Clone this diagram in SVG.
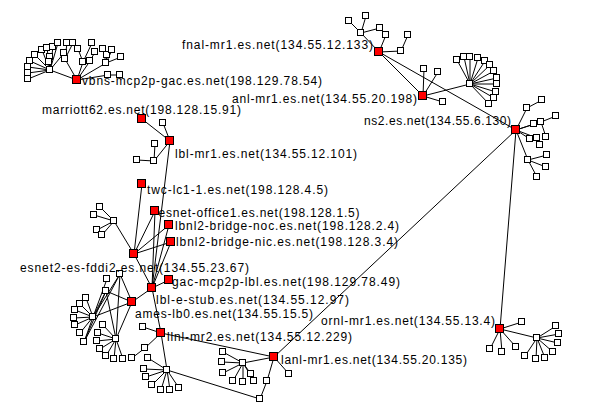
<svg xmlns="http://www.w3.org/2000/svg" width="590" height="411" viewBox="0 0 590 411">
<style>
.w{fill:#fff;stroke:#000;stroke-width:1}
.r{fill:#f00;stroke:#000;stroke-width:1}
#connectors path{stroke:#000;stroke-width:1;fill:none}
text{font-family:"Liberation Sans",Arial,sans-serif;font-size:12px;fill:#000}
</style>
<rect width="590" height="411" fill="#fff"/>
<g id="connectors">
<path d="M379 52L361 33M361 33L349 21M361 33L366 16M361 33L380 28M379 52L386 35M379 52L401 51M401 51L408 35M379 52L423 96M379 52L516 130"/>
<path d="M423 96L424 69M423 96L438 72M423 96L443 102M423 96L470 84M470 84L457 60M470 84L464 57M470 84L470 57M470 84L478 58M470 84L485 61M470 84L490 65M470 84L494 71M470 84L497 78M470 84L497 84M470 84L496 92M470 84L494 98M470 84L489 104"/>
<path d="M516 130L527 108M527 108L542 100M516 130L534 124M516 130L541 122M541 122L556 116M541 122L546 137M516 130L530 139M516 130L537 138M537 138L540 145M516 130L528 160M528 160L547 155M528 160L546 167M528 160L537 177M516 130L500 329M516 130L274 357"/>
<path d="M500 329L522 322M500 329L490 349M500 329L502 352M500 329L516 347M500 329L537 338M537 338L556 326M537 338L559 334M537 338L558 343M537 338L553 352M537 338L545 358M537 338L536 359M537 338L525 356"/>
<path d="M274 357L289 374M274 357L267 381M267 381L260 399M274 357L243 363M243 363L223 352M243 363L222 362M243 363L223 373M243 363L233 381M243 363L243 382M243 363L251 374M243 363L254 381M274 357L161 333M167 370L260 399"/>
<path d="M161 333L143 327M161 333L145 348M145 348L132 358M161 333L167 370M167 370L148 358M167 370L144 369M167 370L146 377M167 370L152 385M167 370L161 390M167 370L170 390M167 370L179 388"/>
<path d="M142 184L134 254M155 211L134 254M169 225L134 254M171 242L134 254M155 211L152 288M169 225L152 288M171 242L152 288M134 254L152 288M152 288L169 280M152 288L132 302M152 288L161 333M170 141L152 288"/>
<path d="M142 119L170 141M170 141L163 123M170 141L154 161M154 161L155 144M154 161L137 160"/>
<path d="M134 254L114 221M114 221L100 207M114 221L94 215M114 221L97 230M114 221L102 235"/>
<path d="M132 302L120 274M132 302L106 291M132 302L93 317M132 302L116 339M120 274L93 317M120 274L116 339M120 274L84 342M107 279L93 317M106 291L93 317M106 291L116 339M106 291L84 342M93 317L86 298M93 317L80 304M93 317L75 310M93 317L74 318M93 317L75 325M93 317L80 333M93 317L84 342M116 339L103 325M116 339L98 333M116 339L97 341M116 339L100 349M116 339L106 356M116 339L114 359M116 339L123 359"/>
<path d="M77 80L50 70M50 70L28 79M50 70L28 73M50 70L28 67M50 70L30 61M50 70L35 55M50 70L42 50M50 70L47 48M50 70L53 47M50 70L58 43M50 70L50 57M50 70L49 62M50 70L64 53M77 80L65 59M77 80L83 62M77 80L90 61M77 80L106 63M77 80L108 75M65 59L67 43M65 59L73 43M83 62L78 49M83 62L92 43M90 61L95 52M106 63L103 49M106 63L107 55M106 63L112 50M106 63L121 57M108 75L120 75"/>
</g>
<g id="w-vbns">
<rect class="w" x="46.5" y="66.5" width="6" height="6"/><rect class="w" x="24.5" y="75.5" width="6" height="6"/><rect class="w" x="24.5" y="69.5" width="6" height="6"/><rect class="w" x="24.5" y="63.5" width="6" height="6"/><rect class="w" x="26.5" y="57.5" width="6" height="6"/><rect class="w" x="31.5" y="51.5" width="6" height="6"/><rect class="w" x="38.5" y="46.5" width="6" height="6"/><rect class="w" x="43.5" y="44.5" width="6" height="6"/><rect class="w" x="49.5" y="43.5" width="6" height="6"/><rect class="w" x="54.5" y="39.5" width="6" height="6"/><rect class="w" x="46.5" y="53.5" width="6" height="6"/><rect class="w" x="45.5" y="58.5" width="6" height="6"/><rect class="w" x="60.5" y="49.5" width="6" height="6"/><rect class="w" x="63.5" y="39.5" width="6" height="6"/><rect class="w" x="69.5" y="39.5" width="6" height="6"/><rect class="w" x="61.5" y="55.5" width="6" height="6"/><rect class="w" x="79.5" y="58.5" width="6" height="6"/><rect class="w" x="86.5" y="57.5" width="6" height="6"/><rect class="w" x="74.5" y="45.5" width="6" height="6"/><rect class="w" x="88.5" y="39.5" width="6" height="6"/><rect class="w" x="91.5" y="48.5" width="6" height="6"/><rect class="w" x="102.5" y="59.5" width="6" height="6"/><rect class="w" x="99.5" y="45.5" width="6" height="6"/><rect class="w" x="103.5" y="51.5" width="6" height="6"/><rect class="w" x="108.5" y="46.5" width="6" height="6"/><rect class="w" x="117.5" y="53.5" width="6" height="6"/><rect class="w" x="104.5" y="71.5" width="6" height="6"/><rect class="w" x="116.5" y="71.5" width="6" height="6"/>
</g>
<g id="w-fnal">
<rect class="w" x="357.5" y="29.5" width="6" height="6"/><rect class="w" x="345.5" y="17.5" width="6" height="6"/><rect class="w" x="362.5" y="12.5" width="6" height="6"/><rect class="w" x="376.5" y="24.5" width="6" height="6"/><rect class="w" x="382.5" y="31.5" width="6" height="6"/><rect class="w" x="397.5" y="47.5" width="6" height="6"/><rect class="w" x="404.5" y="31.5" width="6" height="6"/>
</g>
<g id="w-anl">
<rect class="w" x="420.5" y="65.5" width="6" height="6"/><rect class="w" x="434.5" y="68.5" width="6" height="6"/><rect class="w" x="439.5" y="98.5" width="6" height="6"/><rect class="w" x="466.5" y="80.5" width="6" height="6"/><rect class="w" x="453.5" y="56.5" width="6" height="6"/><rect class="w" x="460.5" y="53.5" width="6" height="6"/><rect class="w" x="466.5" y="53.5" width="6" height="6"/><rect class="w" x="474.5" y="54.5" width="6" height="6"/><rect class="w" x="481.5" y="57.5" width="6" height="6"/><rect class="w" x="486.5" y="61.5" width="6" height="6"/><rect class="w" x="490.5" y="67.5" width="6" height="6"/><rect class="w" x="493.5" y="74.5" width="6" height="6"/><rect class="w" x="493.5" y="80.5" width="6" height="6"/><rect class="w" x="492.5" y="88.5" width="6" height="6"/><rect class="w" x="490.5" y="94.5" width="6" height="6"/><rect class="w" x="485.5" y="100.5" width="6" height="6"/>
</g>
<g id="w-ns2">
<rect class="w" x="523.5" y="104.5" width="6" height="6"/><rect class="w" x="538.5" y="96.5" width="6" height="6"/><rect class="w" x="530.5" y="120.5" width="6" height="6"/><rect class="w" x="537.5" y="118.5" width="6" height="6"/><rect class="w" x="552.5" y="112.5" width="6" height="6"/><rect class="w" x="526.5" y="135.5" width="6" height="6"/><rect class="w" x="533.5" y="134.5" width="6" height="6"/><rect class="w" x="542.5" y="133.5" width="6" height="6"/><rect class="w" x="536.5" y="141.5" width="6" height="6"/><rect class="w" x="524.5" y="156.5" width="6" height="6"/><rect class="w" x="543.5" y="151.5" width="6" height="6"/><rect class="w" x="542.5" y="163.5" width="6" height="6"/><rect class="w" x="533.5" y="173.5" width="6" height="6"/>
</g>
<g id="w-ornl">
<rect class="w" x="518.5" y="318.5" width="6" height="6"/><rect class="w" x="486.5" y="345.5" width="6" height="6"/><rect class="w" x="498.5" y="348.5" width="6" height="6"/><rect class="w" x="512.5" y="343.5" width="6" height="6"/><rect class="w" x="533.5" y="334.5" width="6" height="6"/><rect class="w" x="552.5" y="322.5" width="6" height="6"/><rect class="w" x="555.5" y="330.5" width="6" height="6"/><rect class="w" x="554.5" y="339.5" width="6" height="6"/><rect class="w" x="549.5" y="348.5" width="6" height="6"/><rect class="w" x="541.5" y="354.5" width="6" height="6"/><rect class="w" x="532.5" y="355.5" width="6" height="6"/><rect class="w" x="521.5" y="352.5" width="6" height="6"/>
</g>
<g id="w-lanl">
<rect class="w" x="285.5" y="370.5" width="6" height="6"/><rect class="w" x="263.5" y="377.5" width="6" height="6"/><rect class="w" x="256.5" y="395.5" width="6" height="6"/><rect class="w" x="239.5" y="359.5" width="6" height="6"/><rect class="w" x="219.5" y="348.5" width="6" height="6"/><rect class="w" x="218.5" y="358.5" width="6" height="6"/><rect class="w" x="219.5" y="369.5" width="6" height="6"/><rect class="w" x="229.5" y="377.5" width="6" height="6"/><rect class="w" x="239.5" y="378.5" width="6" height="6"/><rect class="w" x="247.5" y="370.5" width="6" height="6"/><rect class="w" x="250.5" y="377.5" width="6" height="6"/>
</g>
<g id="w-llnl">
<rect class="w" x="139.5" y="323.5" width="6" height="6"/><rect class="w" x="141.5" y="344.5" width="6" height="6"/><rect class="w" x="128.5" y="354.5" width="6" height="6"/><rect class="w" x="163.5" y="366.5" width="6" height="6"/><rect class="w" x="144.5" y="354.5" width="6" height="6"/><rect class="w" x="140.5" y="365.5" width="6" height="6"/><rect class="w" x="142.5" y="373.5" width="6" height="6"/><rect class="w" x="148.5" y="381.5" width="6" height="6"/><rect class="w" x="157.5" y="386.5" width="6" height="6"/><rect class="w" x="166.5" y="386.5" width="6" height="6"/><rect class="w" x="175.5" y="384.5" width="6" height="6"/>
</g>
<g id="w-esnet2">
<rect class="w" x="110.5" y="217.5" width="6" height="6"/><rect class="w" x="96.5" y="203.5" width="6" height="6"/><rect class="w" x="90.5" y="211.5" width="6" height="6"/><rect class="w" x="93.5" y="226.5" width="6" height="6"/><rect class="w" x="98.5" y="231.5" width="6" height="6"/>
</g>
<g id="w-lblmr1">
<rect class="w" x="159.5" y="119.5" width="6" height="6"/><rect class="w" x="151.5" y="140.5" width="6" height="6"/><rect class="w" x="150.5" y="157.5" width="6" height="6"/><rect class="w" x="133.5" y="156.5" width="6" height="6"/>
</g>
<g id="w-ames">
<rect class="w" x="116.5" y="270.5" width="6" height="6"/><rect class="w" x="103.5" y="275.5" width="6" height="6"/><rect class="w" x="102.5" y="287.5" width="6" height="6"/><rect class="w" x="89.5" y="313.5" width="6" height="6"/><rect class="w" x="112.5" y="335.5" width="6" height="6"/><rect class="w" x="82.5" y="294.5" width="6" height="6"/><rect class="w" x="76.5" y="300.5" width="6" height="6"/><rect class="w" x="71.5" y="306.5" width="6" height="6"/><rect class="w" x="70.5" y="314.5" width="6" height="6"/><rect class="w" x="71.5" y="321.5" width="6" height="6"/><rect class="w" x="76.5" y="329.5" width="6" height="6"/><rect class="w" x="80.5" y="338.5" width="6" height="6"/><rect class="w" x="99.5" y="321.5" width="6" height="6"/><rect class="w" x="94.5" y="329.5" width="6" height="6"/><rect class="w" x="93.5" y="337.5" width="6" height="6"/><rect class="w" x="96.5" y="345.5" width="6" height="6"/><rect class="w" x="102.5" y="352.5" width="6" height="6"/><rect class="w" x="110.5" y="355.5" width="6" height="6"/><rect class="w" x="119.5" y="355.5" width="6" height="6"/>
</g>
<g id="fnal-mr1"><rect class="r" x="374.5" y="47.5" width="8" height="8"/><text x="182" y="48.5" textLength="191">fnal-mr1.es.net(134.55.12.133)</text></g>
<g id="vbns-mcp2p-gac"><rect class="r" x="72.5" y="75.5" width="8" height="8"/><text x="82" y="85" textLength="240">vbns-mcp2p-gac.es.net(198.129.78.54)</text></g>
<g id="anl-mr1"><rect class="r" x="418.5" y="91.5" width="8" height="8"/><text x="232" y="102.5" textLength="185">anl-mr1.es.net(134.55.20.198)</text></g>
<g id="marriott62"><rect class="r" x="137.5" y="114.5" width="8" height="8"/><text x="42" y="114" textLength="199">marriott62.es.net(198.128.15.91)</text></g>
<g id="ns2"><rect class="r" x="511.5" y="125.5" width="8" height="8"/><text x="364" y="125" textLength="147">ns2.es.net(134.55.6.130)</text></g>
<g id="lbl-mr1"><rect class="r" x="165.5" y="136.5" width="8" height="8"/><text x="175" y="158" textLength="182">lbl-mr1.es.net(134.55.12.101)</text></g>
<g id="twc-lc1-1"><rect class="r" x="137.5" y="179.5" width="8" height="8"/><text x="147" y="194" textLength="181">twc-lc1-1.es.net(198.128.4.5)</text></g>
<g id="esnet-office1"><rect class="r" x="150.5" y="206.5" width="8" height="8"/><text x="158.5" y="217" textLength="201">esnet-office1.es.net(198.128.1.5)</text></g>
<g id="lbnl2-bridge-noc"><rect class="r" x="164.5" y="220.5" width="8" height="8"/><text x="175" y="230" textLength="224">lbnl2-bridge-noc.es.net(198.128.2.4)</text></g>
<g id="lbnl2-bridge-nic"><rect class="r" x="166.5" y="237.5" width="8" height="8"/><text x="176" y="246" textLength="222">lbnl2-bridge-nic.es.net(198.128.3.4)</text></g>
<g id="esnet2-es-fddi2"><rect class="r" x="129.5" y="249.5" width="8" height="8"/><text x="20" y="272" textLength="229">esnet2-es-fddi2.es.net(134.55.23.67)</text></g>
<g id="gac-mcp2p-lbl"><rect class="r" x="164.5" y="275.5" width="8" height="8"/><text x="172" y="286" textLength="228">gac-mcp2p-lbl.es.net(198.129.78.49)</text></g>
<g id="lbl-e-stub"><rect class="r" x="147.5" y="283.5" width="8" height="8"/><text x="156" y="304" textLength="193">lbl-e-stub.es.net(134.55.12.97)</text></g>
<g id="ames-lb0"><rect class="r" x="127.5" y="297.5" width="8" height="8"/><text x="135" y="318" textLength="178">ames-lb0.es.net(134.55.15.5)</text></g>
<g id="ornl-mr1"><rect class="r" x="495.5" y="324.5" width="8" height="8"/><text x="321" y="325" textLength="174">ornl-mr1.es.net(134.55.13.4)</text></g>
<g id="llnl-mr2"><rect class="r" x="156.5" y="328.5" width="8" height="8"/><text x="167" y="340.5" textLength="185">llnl-mr2.es.net(134.55.12.229)</text></g>
<g id="lanl-mr1"><rect class="r" x="269.5" y="352.5" width="8" height="8"/><text x="281" y="364" textLength="186">lanl-mr1.es.net(134.55.20.135)</text></g>
</svg>
